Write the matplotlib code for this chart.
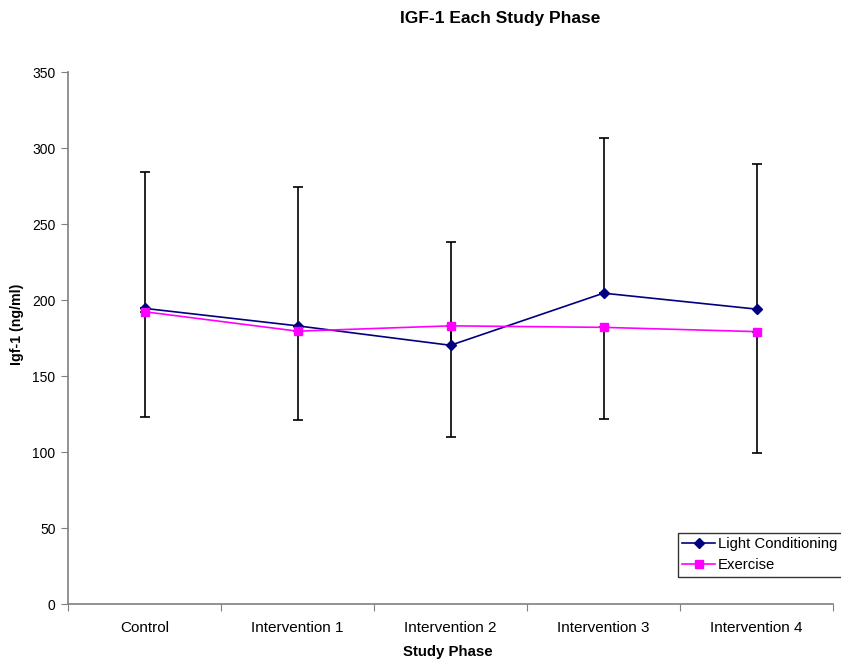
import matplotlib
matplotlib.use("Agg")
import matplotlib.pyplot as plt
import numpy as np

plt.rcParams['font.family'] = ['Liberation Sans', 'DejaVu Sans']

categories = ["Control", "Intervention 1", "Intervention 2", "Intervention 3", "Intervention 4"]
light = [194.5, 183.0, 170.2, 204.5, 194.0]
exercise = [192.3, 179.5, 183.0, 182.0, 179.2]
light_err_upper = [89.5, 91.6, 68.0, 102.0, 95.6]
exercise_err_lower = [69.1, 58.4, 73.2, 60.1, 79.6]
yticks = [0, 50, 100, 150, 200, 250, 300, 350]

W, H = 841, 660
fig = plt.figure(figsize=(W / 100, H / 100), dpi=100)
ax = fig.add_axes([68 / W, 1 - 604 / H, (833 - 68) / W, (604 - 72) / H])

x = np.arange(len(categories))
zeros = np.zeros(len(categories))

ax.errorbar(x, light, yerr=[zeros, light_err_upper], fmt='none', ecolor='black',
            elinewidth=1.2, capsize=3.5, capthick=1.2, zorder=2)
ax.errorbar(x, exercise, yerr=[exercise_err_lower, zeros], fmt='none', ecolor='black',
            elinewidth=1.2, capsize=3.5, capthick=1.2, zorder=2)

ax.plot(x, light, color='#000080', marker='D', markersize=5, lw=1.2,
        label='Light Conditioning', zorder=3)
ax.plot(x, exercise, color='#FF00FF', marker='s', markersize=6, lw=1.2,
        label='Exercise', zorder=3)

ax.set_xlim(-0.5, len(categories) - 0.5)
ax.set_ylim(0, 350)
ax.set_yticks(yticks)
ax.set_yticklabels([str(v) for v in yticks], fontsize=10)

ax.set_xticks(np.arange(len(categories) + 1) - 0.5)
ax.set_xticklabels([])
ax.set_xticks(x, minor=True)
ax.set_xticklabels(categories, minor=True, fontsize=11)
ax.tick_params(axis='x', which='minor', length=0, pad=12)
ax.tick_params(axis='x', which='major', length=5, color='#808080')
ax.tick_params(axis='y', length=5, color='#808080', pad=4)

for s in ['top', 'right']:
    ax.spines[s].set_visible(False)
for s in ['left', 'bottom']:
    ax.spines[s].set_color('#808080')
    ax.spines[s].set_linewidth(1.2)

fig.text(500 / W, 1 - 18 / H, "IGF-1 Each Study Phase", ha='center', va='center',
         fontsize=12.5, fontweight='bold')
fig.text(17 / W, 1 - 324 / H, "Igf-1 (ng/ml)", ha='center', va='center',
         rotation=90, fontsize=10.2, fontweight='bold')
fig.text(448 / W, 1 - 652 / H, "Study Phase", ha='center', va='center',
         fontsize=10.8, fontweight='bold')

leg = fig.legend(loc='upper left', bbox_to_anchor=(678 / W, 1 - 533 / H),
                 fontsize=10.7, frameon=True, fancybox=False, edgecolor='black',
                 handlelength=2.2, handletextpad=0.2, borderpad=0.3,
                 labelspacing=0.45, borderaxespad=0)
leg.get_frame().set_linewidth(1.0)

fig.savefig("out.png", dpi=100)
